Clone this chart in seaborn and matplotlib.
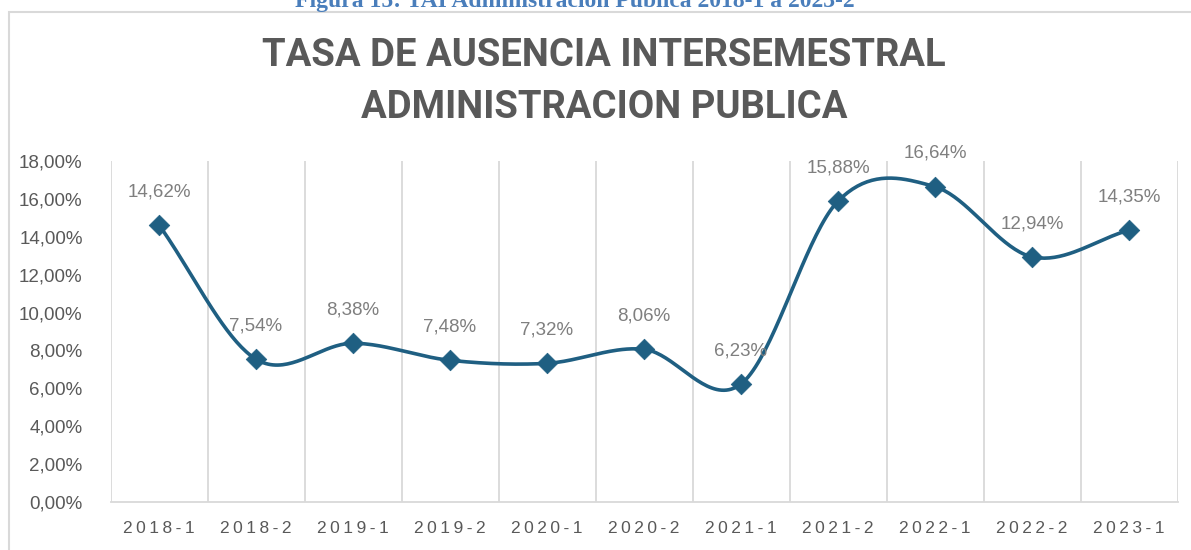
import numpy as np
import pandas as pd
import matplotlib
matplotlib.use("Agg")
import matplotlib.pyplot as plt
import matplotlib.patches as patches
import seaborn as sns

# --- data ---
semesters = ["2018-1", "2018-2", "2019-1", "2019-2", "2020-1", "2020-2",
             "2021-1", "2021-2", "2022-1", "2022-2", "2023-1"]
tai_values = [14.62, 7.54, 8.38, 7.48, 7.32, 8.06, 6.23, 15.88, 16.64, 12.94, 14.35]
y_ticks = [0, 2, 4, 6, 8, 10, 12, 14, 16, 18]

title_lines = ["TASA DE AUSENCIA INTERSEMESTRAL", "ADMINISTRACION PUBLICA"]
caption = "Figura 15: TAI Administración Pública 2018-1 a 2023-2"

LINE_COLOR = "#1F5F82"
GRID_COLOR = "#D9D9D9"
TEXT_COLOR = "#595959"
LABEL_COLOR = "#7F7F7F"

df = pd.DataFrame({"pos": np.arange(len(semesters)), "tai": tai_values})


def smooth_curve(x, y, n=40):
    # Excel-like smoothed line: cubic Hermite with Catmull-Rom tangents,
    # chord slope at the two ends
    x = np.asarray(x, float)
    y = np.asarray(y, float)
    m = np.empty_like(y)
    m[1:-1] = (y[2:] - y[:-2]) / 2
    m[0] = y[1] - y[0]
    m[-1] = y[-1] - y[-2]
    xs, ys = [], []
    for i in range(len(x) - 1):
        t = np.linspace(0, 1, n, endpoint=(i == len(x) - 2))
        h00 = 2 * t**3 - 3 * t**2 + 1
        h10 = t**3 - 2 * t**2 + t
        h01 = -2 * t**3 + 3 * t**2
        h11 = t**3 - t**2
        xs.append(x[i] + t * (x[i + 1] - x[i]))
        ys.append(h00 * y[i] + h10 * m[i] + h01 * y[i + 1] + h11 * m[i + 1])
    return np.concatenate(xs), np.concatenate(ys)


sns.set_theme(style="white")
plt.rcParams["font.family"] = ["Liberation Sans", "DejaVu Sans"]

fig = plt.figure(figsize=(11.91, 5.5), dpi=100)
ax = fig.add_axes([110.5 / 1191, 1 - 502 / 550, 1067 / 1191, 341 / 550])

# vertical gridlines between categories
for b in np.arange(-0.5, len(semesters), 1.0):
    ax.plot([b, b], [0, 18], color=GRID_COLOR, lw=1.3, zorder=1, solid_capstyle="butt")

sx, sy = smooth_curve(df["pos"], df["tai"])
smooth_df = pd.DataFrame({"x": sx, "y": sy})
sns.lineplot(data=smooth_df, x="x", y="y", sort=False, color=LINE_COLOR,
             linewidth=2.6, ax=ax, zorder=3)
sns.scatterplot(data=df, x="pos", y="tai", marker="D", s=110, color=LINE_COLOR,
                edgecolor=LINE_COLOR, linewidth=0.5, ax=ax, zorder=4)

for p, v in zip(df["pos"], df["tai"]):
    ax.annotate(f"{v:.2f}%".replace(".", ","), (p, v), xytext=(0, 24),
                textcoords="offset points", ha="center", va="center",
                fontsize=13.5, color=LABEL_COLOR, zorder=5)

ax.set_xlim(-0.5, len(semesters) - 0.5)
ax.set_ylim(0, 18)
ax.set_yticks(y_ticks)
ax.set_yticklabels([f"{t:.2f}%".replace(".", ",") for t in y_ticks],
                   fontsize=13.5, color=TEXT_COLOR)
ax.set_xticks(df["pos"])
ax.set_xticklabels(["\u2009".join(s) for s in semesters], fontsize=12.5, color=TEXT_COLOR)
ax.tick_params(axis="y", length=0, pad=20)
ax.tick_params(axis="x", length=0, pad=14)
ax.set_xlabel("")
ax.set_ylabel("")
for side in ["top", "left", "right"]:
    ax.spines[side].set_visible(False)
ax.spines["bottom"].set_color(GRID_COLOR)
ax.spines["bottom"].set_linewidth(1.3)
ax.set_facecolor("none")

# chart title
fig.text(604 / 1191, 1 - 56 / 550, title_lines[0], ha="center", va="center",
         fontsize=27.5, fontweight="bold", color=TEXT_COLOR,
         family=["Roboto", "DejaVu Sans"])
fig.text(604 / 1191, 1 - 107 / 550, title_lines[1], ha="center", va="center",
         fontsize=27.5, fontweight="bold", color=TEXT_COLOR,
         family=["Roboto", "DejaVu Sans"])

# chart area border (cut by the page edge on the right and bottom)
fig.patches.append(patches.Rectangle((9 / 1191, -0.1), 1.2, 1.1 - 12.5 / 550,
                                     transform=fig.transFigure, fill=False,
                                     edgecolor=GRID_COLOR, lw=1.5))

# document caption, mostly cut off by the top edge as in the source page
fig.text(575 / 1191, 1 - 7 / 550, caption, ha="center", va="baseline",
         fontsize=17, fontweight="bold", color="#4A7EBB", family=["Liberation Serif"])

fig.savefig("out.png", dpi=100)
